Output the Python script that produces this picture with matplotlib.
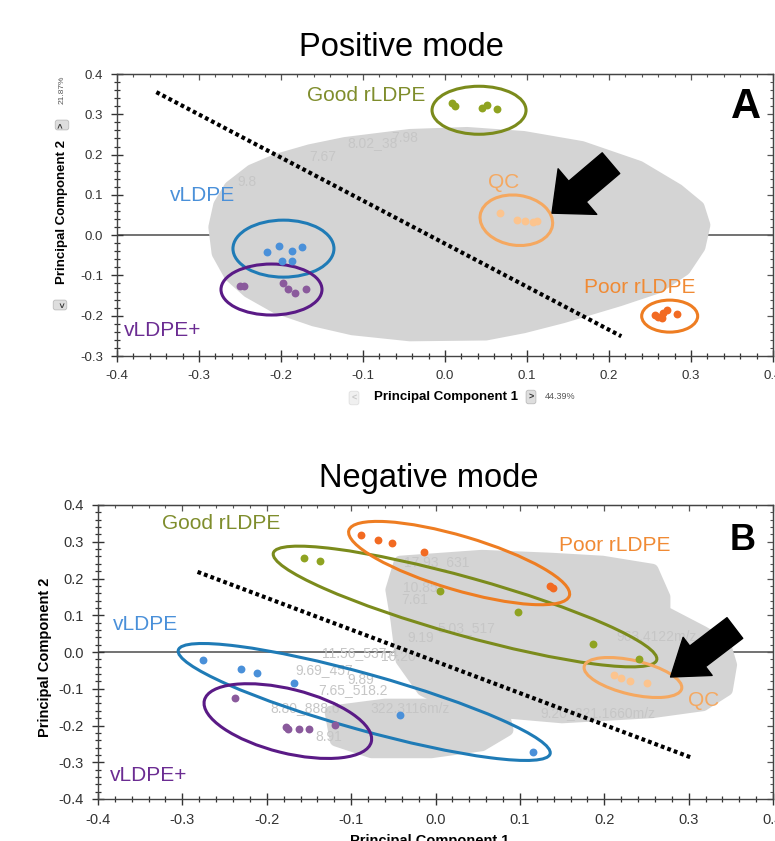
import matplotlib
matplotlib.use("Agg")
import matplotlib.pyplot as plt
from matplotlib.patches import Ellipse, Polygon
from matplotlib.transforms import ScaledTranslation
from matplotlib.ticker import MultipleLocator

plt.rcParams['font.family'] = ['Liberation Sans', 'DejaVu Sans']

# ---------------- data: panel A (positive mode) ----------------
a_vldpe_x = [-0.217, -0.202, -0.187, -0.174, -0.199, -0.187]
a_vldpe_y = [-0.042, -0.027, -0.040, -0.030, -0.065, -0.065]
a_vldpep_x = [-0.250, -0.245, -0.198, -0.192, -0.183, -0.170]
a_vldpep_y = [-0.127, -0.127, -0.119, -0.134, -0.144, -0.134]
a_good_x = [0.009, 0.012, 0.045, 0.051, 0.063]
a_good_y = [0.328, 0.320, 0.315, 0.322, 0.313]
a_qc_x = [0.067, 0.088, 0.098, 0.107, 0.112]
a_qc_y = [0.055, 0.037, 0.035, 0.032, 0.035]
a_poor_x = [0.256, 0.260, 0.266, 0.271, 0.283, 0.265]
a_poor_y = [-0.199, -0.204, -0.194, -0.186, -0.196, -0.206]

# loading cloud outline (panel A)
a_cloud_x = [-0.281, -0.275, -0.262, -0.236, -0.206, -0.165, -0.122, -0.043, 0.027, 0.096,
             0.167, 0.237, 0.284, 0.309, 0.316, 0.310, 0.292, 0.260, 0.213, 0.144, 0.096,
             0.050, -0.043, -0.113, -0.160, -0.206, -0.240, -0.262, -0.277]
a_cloud_y = [0.020, 0.075, 0.119, 0.160, 0.186, 0.210, 0.228, 0.248, 0.253, 0.243,
             0.218, 0.169, 0.112, 0.070, 0.025, -0.030, -0.085, -0.129, -0.161, -0.203, -0.228,
             -0.246, -0.248, -0.233, -0.211, -0.179, -0.140, -0.100, -0.045]
a_cloud_text = ["8.02_38", "7.98", "7.67", "9.8"]
a_cloud_tx = [-0.088, -0.049, -0.149, -0.242]
a_cloud_ty = [0.228, 0.241, 0.194, 0.132]

a_sep_x = [-0.352, 0.215]
a_sep_y = [0.355, -0.251]

# ---------------- data: panel B (negative mode) ----------------
b_vldpe_x = [-0.276, -0.230, -0.212, -0.168, -0.042, 0.116]
b_vldpe_y = [-0.022, -0.046, -0.057, -0.084, -0.171, -0.272]
b_vldpep_x = [-0.238, -0.177, -0.175, -0.162, -0.150, -0.119]
b_vldpep_y = [-0.125, -0.204, -0.210, -0.210, -0.210, -0.199]
b_good_x = [-0.156, -0.137, 0.005, 0.098, 0.187, 0.241]
b_good_y = [0.256, 0.248, 0.166, 0.109, 0.022, -0.019]
b_poor_x = [-0.088, -0.068, -0.051, -0.014, 0.136, 0.139]
b_poor_y = [0.318, 0.305, 0.297, 0.272, 0.180, 0.174]
b_qc_x = [0.211, 0.220, 0.230, 0.251]
b_qc_y = [-0.063, -0.071, -0.079, -0.084]

b_cloud_x = [-0.042, 0.055, 0.138, 0.198, 0.257, 0.271, 0.271, 0.317, 0.343, 0.350,
             0.345, 0.317, 0.257, 0.150, 0.080, 0.020, -0.015, -0.040, -0.046, -0.052]
b_cloud_y = [0.245, 0.261, 0.253, 0.245, 0.223, 0.150, 0.109, 0.054, 0.019, -0.035,
             -0.103, -0.144, -0.163, -0.177, -0.163, -0.144, -0.103, -0.022, 0.087, 0.169]
b_cloud2_x = [-0.124, -0.060, 0.010, 0.080, 0.085, 0.055, -0.005, -0.076, -0.118]
b_cloud2_y = [-0.163, -0.144, -0.144, -0.163, -0.212, -0.253, -0.272, -0.272, -0.240]
b_cloud_text = ["11.56_537.4", "9.69_457", "7.65_518.2", "8.80_888.6", "9.20_821.1660m/z",
                "10.20", "9.89", "8.91", "17.93_631", "10.85", "7.61", "5.03_517",
                "9.19", "963.4122m/z", "322.3116m/z"]
b_cloud_tx = [-0.089, -0.132, -0.098, -0.154, 0.193, -0.044, -0.089, -0.127, 0.001,
              -0.018, -0.025, 0.037, -0.017, 0.262, -0.030]
b_cloud_ty = [-0.003, -0.049, -0.103, -0.152, -0.166, -0.014, -0.076, -0.231, 0.245,
              0.174, 0.142, 0.065, 0.038, 0.041, -0.155]

b_sep_x = [-0.282, 0.304]
b_sep_y = [0.218, -0.288]

# ---------------- styling ----------------
C_VL, C_VL_E = '#4a90d9', '#1f7bb6'
C_VP, C_VP_E, C_VP_T = '#8a5a9c', '#5a1a86', '#6b2c92'
C_GD, C_GD_E, C_GD_T = '#8fa321', '#7b8b1c', '#7f8d2c'
C_PR, C_PR_E, C_PR_T = '#f26a22', '#ee7d22', '#f08a34'
C_QC, C_QC_E = '#fcc48e', '#f5a860'
C_CLOUD = '#d4d4d4'
C_CTEXT = '#c6c6c6'

W, H = 775, 841
fig = plt.figure(figsize=(W / 100, H / 100), dpi=100)


def fbox(l, t, r, b):
    return [l / W, 1 - b / H, (r - l) / W, (b - t) / H]


def style_axes(ax, fs):
    ax.set_xlim(-0.4, 0.4)
    ax.xaxis.set_major_locator(MultipleLocator(0.1))
    ax.xaxis.set_minor_locator(MultipleLocator(0.02))
    ax.yaxis.set_major_locator(MultipleLocator(0.1))
    ax.yaxis.set_minor_locator(MultipleLocator(0.02))
    ax.xaxis.set_major_formatter(matplotlib.ticker.FormatStrFormatter('%.1f'))
    ax.yaxis.set_major_formatter(matplotlib.ticker.FormatStrFormatter('%.1f'))
    ax.tick_params(which='major', direction='inout', length=8, width=1.0, color='#333333',
                   labelsize=fs, labelcolor='#333333', pad=6)
    ax.tick_params(which='minor', direction='inout', length=4.5, width=0.9, color='#333333')
    for s in ax.spines.values():
        s.set_color('#444444')
        s.set_linewidth(1.0)
    sx = ax.secondary_xaxis('top')
    sy = ax.secondary_yaxis('right')
    sx.xaxis.set_major_locator(MultipleLocator(0.1))
    sx.xaxis.set_minor_locator(MultipleLocator(0.02))
    sy.yaxis.set_major_locator(MultipleLocator(0.1))
    sy.yaxis.set_minor_locator(MultipleLocator(0.02))
    for sa in (sx, sy):
        sa.tick_params(which='major', direction='in', length=4, width=0.9, color='#555555',
                       labelleft=False, labelright=False, labeltop=False, labelbottom=False)
        sa.tick_params(which='minor', direction='in', length=2.5, width=0.8, color='#555555')
        for s in sa.spines.values():
            s.set_color('#444444')


def add_ellipse(ax, cx, cy, wpx, hpx, ang, color, lw=2.2):
    tr = fig.dpi_scale_trans + ScaledTranslation(cx, cy, ax.transData)
    e = Ellipse((0, 0), wpx / 100, hpx / 100, angle=ang, transform=tr,
                fill=False, edgecolor=color, linewidth=lw, zorder=4)
    ax.add_patch(e)


def add_arrow(ax, tail, tip, hw, hl, tw):
    ax.annotate('', xy=tip, xytext=tail, zorder=6,
                arrowprops=dict(arrowstyle=f'simple,head_width={hw},head_length={hl},tail_width={tw}',
                                fc='black', ec='black', shrinkA=0, shrinkB=0, mutation_scale=10))


def button(x, y, ch, rot, fg, bg, ec):
    fig.text(x / W, 1 - y / H, ch, rotation=rot, fontsize=6.5, fontweight='bold', color=fg,
             ha='center', va='center',
             bbox=dict(boxstyle='round,pad=0.25', fc=bg, ec=ec, lw=0.6))


def add_cloud(ax, xs, ys):
    ax.add_patch(Polygon(list(zip(xs, ys)), closed=True, fc=C_CLOUD, ec=C_CLOUD,
                         lw=9, joinstyle='round', zorder=1))


# ================= Panel A =================
axA = fig.add_axes(fbox(117, 74, 773, 356))
axA.set_ylim(-0.3, 0.4)
style_axes(axA, 9.5)
axA.axhline(0, color='#5a5a5a', lw=1.2, zorder=0.5)
add_cloud(axA, a_cloud_x, a_cloud_y)
for t, x, y in zip(a_cloud_text, a_cloud_tx, a_cloud_ty):
    axA.text(x, y, t, fontsize=10, color=C_CTEXT, ha='center', va='center', zorder=1.5)
axA.plot(a_sep_x, a_sep_y, color='black', lw=3, linestyle=(0, (0.9, 0.75)), zorder=3)

ms = 32
axA.scatter(a_vldpe_x, a_vldpe_y, s=ms, color=C_VL, zorder=5, lw=0)
axA.scatter(a_vldpep_x, a_vldpep_y, s=ms, color=C_VP, zorder=5, lw=0)
axA.scatter(a_good_x, a_good_y, s=ms, color=C_GD, zorder=5, lw=0)
axA.scatter(a_qc_x, a_qc_y, s=ms, color=C_QC, zorder=5, lw=0)
axA.scatter(a_poor_x, a_poor_y, s=ms, color=C_PR, zorder=5, lw=0)

add_ellipse(axA, 0.0415, 0.310, 94, 48, 0, C_GD_E)
add_ellipse(axA, 0.087, 0.037, 73, 50, -8, C_QC_E)
add_ellipse(axA, -0.197, -0.0335, 101, 57, 0, C_VL_E)
add_ellipse(axA, -0.2116, -0.135, 101, 51, 0, C_VP_E)
add_ellipse(axA, 0.2740, -0.201, 56, 32, 0, C_PR_E)

lfs = 15
axA.text(-0.096, 0.347, 'Good rLDPE', color=C_GD_T, fontsize=lfs, ha='center', va='center', zorder=7)
axA.text(-0.296, 0.099, 'vLDPE', color=C_VL, fontsize=lfs, ha='center', va='center', zorder=7)
axA.text(-0.3445, -0.236, 'vLDPE+', color=C_VP_T, fontsize=lfs, ha='center', va='center', zorder=7)
axA.text(0.071, 0.131, 'QC', color=C_QC_E, fontsize=lfs, ha='center', va='center', zorder=7)
axA.text(0.238, -0.129, 'Poor rLDPE', color=C_PR_T, fontsize=lfs, ha='center', va='center', zorder=7)

add_arrow(axA, (0.2024, 0.1787), (0.1305, 0.0546), 4.3, 2.4, 1.95)

fig.text(401 / W, 1 - 47 / H, 'Positive mode', fontsize=23.5, ha='center', va='center')
fig.text(746 / W, 1 - 107 / H, 'A', fontsize=30, fontweight='bold', ha='center', va='center')

fig.text(62 / W, 1 - 212 / H, 'Principal Component 2', rotation=90, fontsize=9.5,
         fontweight='bold', ha='center', va='center')
fig.text(62 / W, 1 - 90 / H, '21.87%', rotation=90, fontsize=6, color='#555555',
         ha='center', va='center')
button(62, 125, '>', 90, '#333333', '#dedede', '#bbbbbb')
button(60, 305, '>', 270, '#333333', '#dedede', '#bbbbbb')

fig.text(446 / W, 1 - 397 / H, 'Principal Component 1', fontsize=9.5, fontweight='bold',
         ha='center', va='center')
button(354, 398, '<', 0, '#c8c8c8', '#f0f0f0', '#e0e0e0')
button(531, 397, '>', 0, '#333333', '#dedede', '#bbbbbb')
fig.text(560 / W, 1 - 397 / H, '44.39%', fontsize=6.5, color='#555555', ha='center', va='center')

# ================= Panel B =================
axB = fig.add_axes(fbox(98, 505, 773, 799))
axB.set_ylim(-0.4, 0.4)
style_axes(axB, 10.5)
axB.axhline(0, color='#5a5a5a', lw=1.2, zorder=0.5)
add_cloud(axB, b_cloud_x, b_cloud_y)
add_cloud(axB, b_cloud2_x, b_cloud2_y)
for t, x, y in zip(b_cloud_text, b_cloud_tx, b_cloud_ty):
    axB.text(x, y, t, fontsize=10, color=C_CTEXT, ha='center', va='center', zorder=1.5)
axB.plot(b_sep_x, b_sep_y, color='black', lw=3, linestyle=(0, (0.9, 0.75)), zorder=3)

axB.scatter(b_vldpe_x, b_vldpe_y, s=ms, color=C_VL, zorder=5, lw=0)
axB.scatter(b_vldpep_x, b_vldpep_y, s=ms, color=C_VP, zorder=5, lw=0)
axB.scatter(b_good_x, b_good_y, s=ms, color=C_GD, zorder=5, lw=0)
axB.scatter(b_poor_x, b_poor_y, s=ms, color=C_PR, zorder=5, lw=0)
axB.scatter(b_qc_x, b_qc_y, s=ms, color=C_QC, zorder=5, lw=0)

add_ellipse(axB, -0.0845, -0.136, 386, 56, -15.6, C_VL_E)
add_ellipse(axB, -0.175, -0.188, 172, 64, -14, C_VP_E)
add_ellipse(axB, 0.035, 0.1238, 398, 58, -15.6, C_GD_E)
add_ellipse(axB, 0.028, 0.242, 230, 54, -16.5, C_PR_E)
add_ellipse(axB, 0.234, -0.0694, 100, 34, -13, C_QC_E)

axB.text(-0.2536, 0.351, 'Good rLDPE', color=C_GD_T, fontsize=lfs, ha='center', va='center', zorder=7)
axB.text(-0.3435, 0.0735, 'vLDPE', color=C_VL, fontsize=lfs, ha='center', va='center', zorder=7)
axB.text(-0.3405, -0.335, 'vLDPE+', color=C_VP_T, fontsize=lfs, ha='center', va='center', zorder=7)
axB.text(0.2125, 0.291, 'Poor rLDPE', color=C_PR_T, fontsize=lfs, ha='center', va='center', zorder=7)
axB.text(0.318, -0.133, 'QC', color=C_QC_E, fontsize=lfs, ha='center', va='center', zorder=7)

add_arrow(axB, (0.3548, 0.0653), (0.2786, -0.068), 3.45, 2.45, 1.87)

fig.text(429 / W, 1 - 478 / H, 'Negative mode', fontsize=23.5, ha='center', va='center')
fig.text(743 / W, 1 - 541 / H, 'B', fontsize=26, fontweight='bold', ha='center', va='center')
fig.text(45 / W, 1 - 657 / H, 'Principal Component 2', rotation=90, fontsize=10.5,
         fontweight='bold', ha='center', va='center')
fig.text(430 / W, 1 - 834 / H, 'Principal Component 1', fontsize=10.5, fontweight='bold',
         ha='center', va='top')

fig.savefig('out.png', dpi=100)
